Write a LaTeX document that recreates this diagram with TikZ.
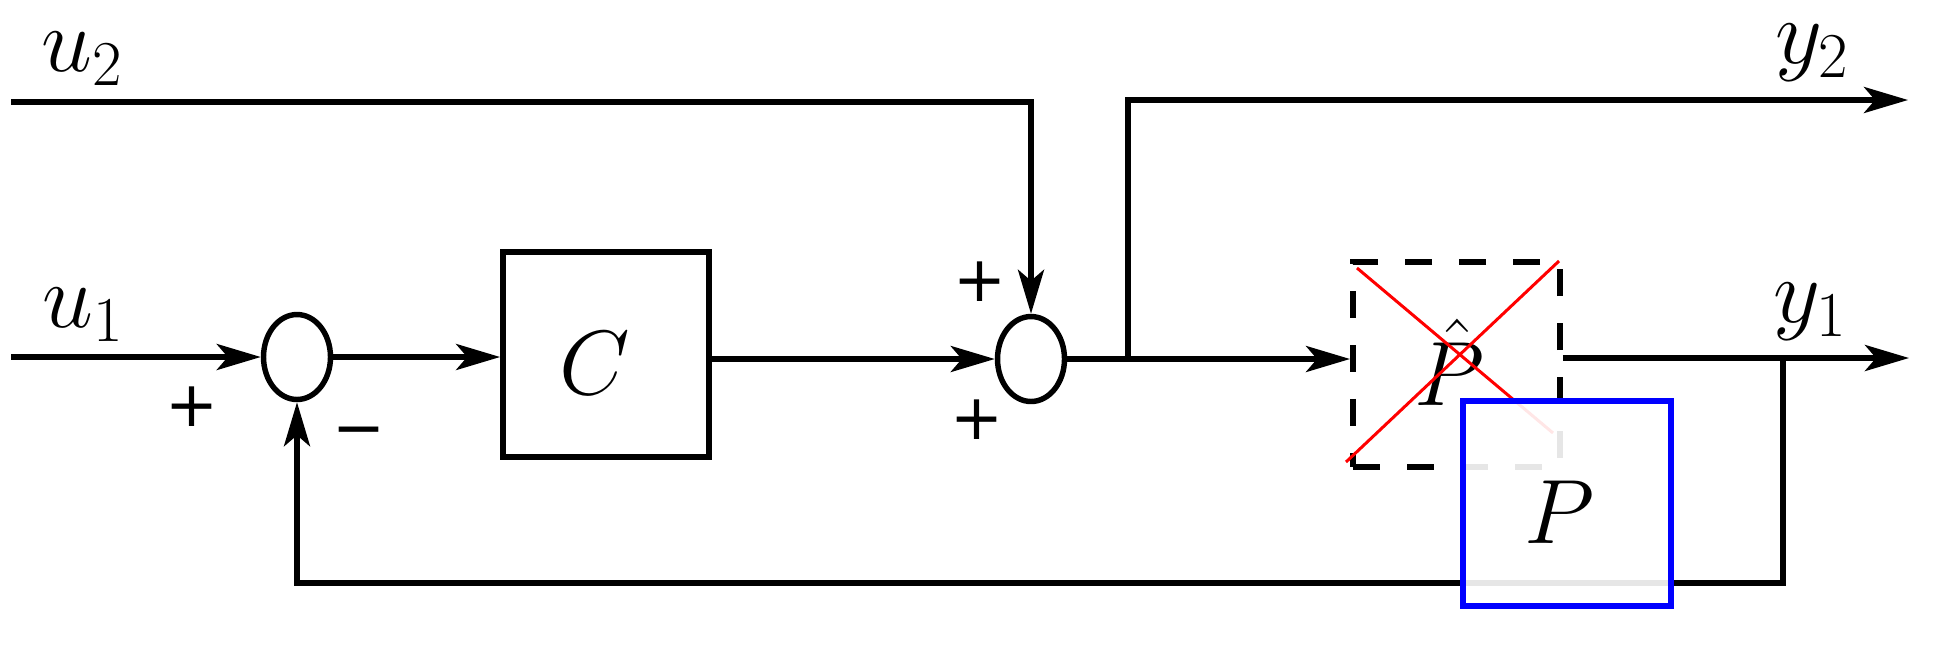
\documentclass[tikz,border=0pt]{standalone}
\usepackage{fix-cm}
\usepackage{fontspec}
\newfontfamily\signfont{DejaVu Sans}
\usetikzlibrary{arrows.meta,shapes.geometric}
\begin{document}
\begin{tikzpicture}[x=0.02cm,y=-0.02cm,
  line/.style={line width=3.1pt},
  arr/.style={line, -{Stealth[length=0.88cm,width=0.52cm,inset=0.22cm]}},
  sumnode/.style={ellipse, draw, line width=3.1pt, minimum width=1.34cm, minimum height=1.7cm, inner sep=0pt},
  bigfont/.style={font=\fontsize{52}{62}\selectfont},
  blk/.style={rectangle, draw, line width=3.3pt, minimum width=4.12cm, minimum height=4.1cm, inner sep=0pt},
  sig/.style={bigfont, inner sep=0pt},
  sgn/.style={font=\fontsize{36}{40}\signfont, inner sep=0pt},
]
\useasboundingbox (0,0) rectangle (1946,650);

% blocks
\node[sumnode] (s1) at (297,357) {};
\node[sumnode] (s2) at (1031,359) {};
\node[blk] (C) at (606,354.5) {};
\node[sig] (Ct) at (595,363.5) {$C$};
\node[blk, line width=3.4pt, dash pattern=on 0.54cm off 0.54cm, minimum width=4.14cm, minimum height=4.1cm] (Ph) at (1456.5,364.5) {};
\node[sig] (Pht) at (1450,362) {$\hat{P}$};

% coordinates
\coordinate (u2s) at (11,102);
\coordinate (u1s) at (11,357);
\coordinate (br) at (1128,359);
\coordinate (y2e) at (1908,100);
\coordinate (tap) at (1783,358);
\coordinate (y1e) at (1909,358);
\coordinate (fb) at (1783,583);

% connectors
\draw[arr] (u2s) -| (s2.north);
\draw[arr] (u1s) -- (s1.west);
\draw[arr] (s1.east) -- (s1.east -| C.west);
\draw[arr] (C.east |- s2) -- (s2.west);
\draw[arr] (s2.east) -- (s2.east -| Ph.west);
\draw[arr] (br) |- (y2e);
\draw[arr] (Ph.east |- y1e) -- (y1e);
\draw[arr] (tap) -- (fb) -| (s1.south);

% red cross
\draw[red, line width=1.7pt] (1357,268) -- (1553,433) (1559,261) -- (1346,462);

% blue P box
\node[rectangle, draw=blue, line width=3.8pt, fill=white, fill opacity=0.9, draw opacity=1,
      minimum width=4.16cm, minimum height=4.1cm, inner sep=0pt] (P) at (1567,503.5) {};
\node[sig] (Pt) at (1560,512) {$P$};

% labels
\node[sig] (lu2) at (82,59) {$u_2$};
\node[sig] (lu1) at (83,315) {$u_1$};
\node[sig] (ly2) at (1812,53) {$y_2$};
\node[sig] (ly1) at (1810,312) {$y_1$};
\node[sgn] (p1) at (192,407) {+};
\node[sgn] (p2) at (980,282) {+};
\node[sgn] (p3) at (977,420) {+};
\node[sgn] (m1) at (359,438) {−};
\end{tikzpicture}
\end{document}
